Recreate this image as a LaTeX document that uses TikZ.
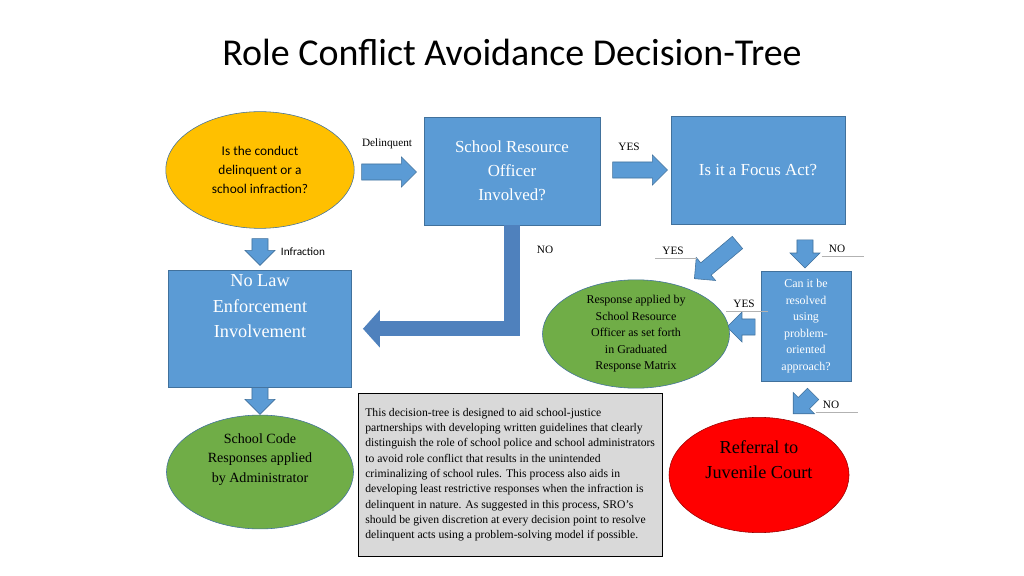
\documentclass[tikz,border=0pt]{standalone}
\usepackage{fontspec}
\setmainfont{Liberation Serif}
\newfontfamily\calibri{Carlito}
\usetikzlibrary{shapes.geometric,shapes.arrows,arrows.meta}
\definecolor{boxblue}{HTML}{5B9BD5}
\definecolor{edgeblue}{HTML}{41719C}
\definecolor{bandblue}{HTML}{4F81BD}
\definecolor{amber}{HTML}{FFC000}
\definecolor{leafgreen}{HTML}{70AD47}
\definecolor{notegray}{HTML}{D9D9D9}
\tikzset{
  bluebox/.style = {rectangle, fill=boxblue, draw=edgeblue, thin, text=white,
    align=center, font=\fontsize{12}{17}\selectfont},
  bubble/.style = {ellipse, draw=edgeblue, thin, align=center, inner sep=0pt},
  blkarrow/.style = {single arrow, fill=boxblue, draw=edgeblue, thin,
    inner xsep=0pt, inner ysep=5.5pt, single arrow head extend=5pt,
    single arrow head indent=0pt},
  tag/.style = {font=\fontsize{8}{9}\selectfont, inner sep=1pt},
  utag/.style = {tag, append after command={
    (\tikzlastnode.south west) ++(-4pt,-1pt) edge[gray!60, thin] ++(30pt,0)}},
}
\begin{document}
\begin{tikzpicture}[x=0.025cm,y=-0.025cm]
  \useasboundingbox (0,0) rectangle (1024,576);

  \node (title) at (512,52) {\calibri\fontsize{27}{30}\selectfont Role Conflict Avoidance Decision-Tree};

  % first row
  \node[bubble, fill=amber, minimum width=134pt, minimum height=83pt,
    font=\calibri\fontsize{9.5}{13.5}\selectfont] (conduct) at (260,170)
    {Is the conduct\\ delinquent or a\\ school infraction?};
  \node[blkarrow, minimum height=39pt] (a1) at (385,172) {};
  \node[tag] (delinq) at (387,144) {Delinquent};
  \node[bluebox, minimum width=125pt, minimum height=77pt] (sro) at (512,171)
    {School Resource\\ Officer\\ Involved?};
  \node[blkarrow, minimum height=39pt] (a2) at (636,170) {};
  \node[tag] (yes1) at (629,147) {YES};
  \node[bluebox, minimum width=124pt, minimum height=77pt] (focus) at (758,170)
    {Is it a Focus Act?};

  % second row
  \node[blkarrow, minimum height=19pt, rotate=-90] (a3) at (260,248) {};
  \node[tag, font=\calibri\fontsize{8}{9}\selectfont] (infr) at (303,252) {Infraction};
  \node[bluebox, minimum width=130pt, minimum height=78pt,
    font=\fontsize{13}{18}\selectfont, anchor=north] (nolaw) at (260,270)
    {No Law\\ Enforcement\\ Involvement\\[14pt]};
  \draw[bandblue, line width=11pt, shorten >=8pt,
    -{Triangle[width=26pt,length=12pt]}] (sro.south) |- (nolaw.east);
  \node[tag] (no1) at (545,250) {NO};

  \node[blkarrow, minimum height=40pt, rotate=-140] (a4) at (719,258) {};
  \node[utag] (yes2) at (673,251) {YES};
  \node[blkarrow, minimum height=20pt, rotate=-90] (a5) at (805,250) {};
  \node[utag] (no2) at (837,249) {NO};
  \node[bluebox, minimum width=64pt, minimum height=78pt, inner sep=1pt,
    font=\fontsize{8.5}{11.7}\selectfont] (resolve) at (806,326)
    {Can it be\\ resolved\\ using\\ problem-\\ oriented\\ approach?};
  \node[blkarrow, minimum height=20pt, rotate=180] (a6) at (745,327) {};
  \node[utag] (yes3) at (744,304) {YES};
  \node[bubble, fill=leafgreen, minimum width=133pt, minimum height=74pt,
    font=\fontsize{8.5}{11.7}\selectfont] (graduated) at (636,334)
    {Response applied by\\ School Resource\\ Officer as set forth\\ in Graduated\\ Response Matrix};

  % third row
  \node[blkarrow, minimum height=19pt, rotate=-90] (a7) at (260,397) {};
  \node[bubble, fill=leafgreen, minimum width=133pt, minimum height=81pt,
    font=\fontsize{10}{14}\selectfont] (schoolcode) at (260,472)
    {School Code\\ Responses applied\\ by Administrator\\[6pt]};
  \node[rectangle, fill=notegray, draw=black, thin, anchor=north west,
    minimum width=216pt, minimum height=116pt, text width=206pt, align=flush left,
    inner sep=4pt, font=\fontsize{8.3}{10.9}\selectfont] (note) at (358,393)
    {This decision-tree is designed to aid school-justice partnerships with
    developing written guidelines that clearly distinguish the role of school
    police and school administrators to avoid role conflict that results in the
    unintended criminalizing of school rules. This process also aids in
    developing least restrictive responses when the infraction is delinquent in
    nature. As suggested in this process, SRO's should be given discretion at
    every decision point to resolve delinquent acts using a problem-solving
    model if possible.};
  \node[blkarrow, minimum height=20pt, rotate=-135] (a8) at (806,401) {};
  \node[utag] (no3) at (831,405) {NO};
  \node[bubble, fill=red, draw=red!60!black, minimum width=128pt, minimum height=82pt,
    font=\fontsize{13}{18}\selectfont] (juvenile) at (759,475)
    {Referral to\\ Juvenile Court\\[4pt]};
\end{tikzpicture}
\end{document}
